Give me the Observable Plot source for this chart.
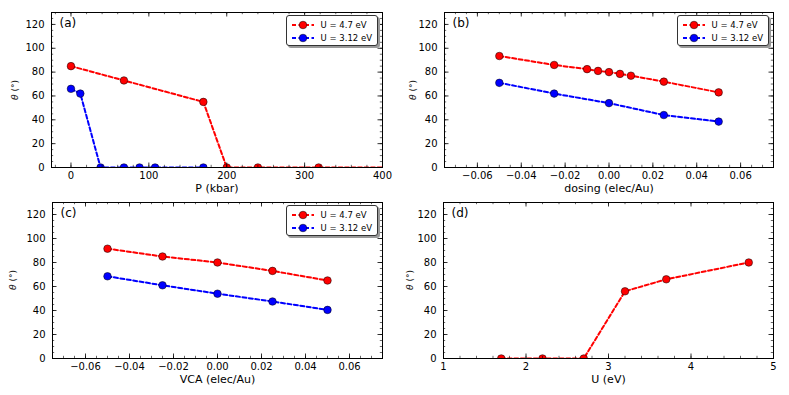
<!DOCTYPE html>
<html>
<head>
<meta charset="utf-8">
<script src="https://cdn.jsdelivr.net/npm/d3@7"></script>
<script src="https://cdn.jsdelivr.net/npm/@observablehq/plot@0.6"></script>
<style>
  html, body { margin: 0; padding: 0; background: #fff; }
  #wrap { position: relative; width: 789px; height: 395px; font-family: "DejaVu Sans", sans-serif; overflow: hidden; }
  #wrap svg.plot { position: absolute; }
  .ylab { position: absolute; transform: translate(-50%, -50%) rotate(-90deg); white-space: nowrap; font-size: 9px; color: #222; }
  .legend { position: absolute; border: 1px solid #333; border-radius: 3px; background: #fff; box-shadow: 2px 2px 0 #999; font-size: 8.5px; padding: 2px 5px 1px 4px; }
  .legend .row { display: flex; align-items: center; height: 13px; }
  .legend svg { margin-right: 6px; }
</style>
</head>
<body>
<div id="wrap"></div>
<script>
// ---------- Data ----------
// Panel (a): pressure
const aRedP   = [0, 68, 170, 200, 240, 318, 420];
const aRedT   = [85, 73, 55, 0, 0, 0, 0];
const aBlueP  = [0, 12, 38, 68, 88, 108, 170];
const aBlueT  = [66, 62, 0, 0, 0, 0, 0];
// Panel (b): dosing
const bRedX   = [-0.05, -0.025, -0.01, -0.005, 0, 0.005, 0.01, 0.025, 0.05];
const bRedT   = [93.5, 86, 82.5, 81, 80, 78.5, 77, 72, 63];
const bBlueX  = [-0.05, -0.025, 0, 0.025, 0.05];
const bBlueT  = [71, 62, 54, 44, 38.5];
// Panel (c): VCA
const cRedX   = [-0.05, -0.025, 0, 0.025, 0.05];
const cRedT   = [91.5, 85, 80, 73, 65];
const cBlueX  = [-0.05, -0.025, 0, 0.025, 0.05];
const cBlueT  = [68.5, 61, 54, 47.5, 40.5];
// Panel (d): U
const dU      = [1.7, 2.2, 2.7, 3.2, 3.7, 4.7];
const dT      = [0, 0, 0, 56, 66, 80];

// Tick values
const yMajor = [0, 20, 40, 60, 80, 100, 120];
const yMinor = d3.range(0, 131, 5);
const aXMajor = [0, 100, 200, 300, 400];
const aXMinor = d3.range(-20, 401, 20);
const bXMajor = [-0.06, -0.04, -0.02, 0, 0.02, 0.04, 0.06];
const bXMinor = d3.range(-14, 15).map(i => i * 0.005);
const dXMajor = [1, 2, 3, 4, 5];
const dXMinor = d3.range(5, 26).map(i => i * 0.2);

const legendLabels = ["U = 4.7 eV", "U = 3.12 eV"];
const RED = "#ff0000", BLUE = "#0000ff";

const wrap = document.getElementById("wrap");
const fmt2 = d3.format(".2f");

function zip(xs, ys) { return xs.map((x, i) => ({x, y: ys[i]})); }

function panel(o) {
  const fw = o.width - o.mL - o.mR;
  const fh = o.height - o.mT - o.mB;
  const marks = [];
  for (const s of o.series) {
    marks.push(Plot.line(s.data, {x: "x", y: "y", stroke: s.color, strokeWidth: 2, strokeDasharray: "4,2.5", clip: true}));
  }
  for (const s of o.series) {
    marks.push(Plot.dot(s.data, {x: "x", y: "y", fill: s.color, stroke: "#000", strokeWidth: 0.5, r: 3.8, clip: true}));
  }
  const inX = v => v >= o.xDomain[0] - 1e-9 && v <= o.xDomain[1] + 1e-9;
  const xMaj = o.xMajor.filter(inX), xMin = o.xMinor.filter(inX);
  // inward ticks on all four sides
  marks.push(Plot.tickX(xMaj, {insetTop: fh - 4.5, stroke: "#000", strokeWidth: 0.8}));
  marks.push(Plot.tickX(xMaj, {insetBottom: fh - 4.5, stroke: "#000", strokeWidth: 0.8}));
  marks.push(Plot.tickX(xMin, {insetTop: fh - 2.2, stroke: "#000", strokeWidth: 0.6}));
  marks.push(Plot.tickX(xMin, {insetBottom: fh - 2.2, stroke: "#000", strokeWidth: 0.6}));
  marks.push(Plot.tickY(yMajor, {insetRight: fw - 4.5, stroke: "#000", strokeWidth: 0.8}));
  marks.push(Plot.tickY(yMajor, {insetLeft: fw - 4.5, stroke: "#000", strokeWidth: 0.8}));
  marks.push(Plot.tickY(yMinor, {insetRight: fw - 2.2, stroke: "#000", strokeWidth: 0.6}));
  marks.push(Plot.tickY(yMinor, {insetLeft: fw - 2.2, stroke: "#000", strokeWidth: 0.6}));
  marks.push(Plot.frame({stroke: "#000", strokeWidth: 1}));
  marks.push(Plot.axisX(xMaj, {tickSize: 0, tickPadding: 4, tickFormat: o.xFmt, label: null, fontSize: 10, fill: "#000"}));
  marks.push(Plot.axisY(yMajor, {tickSize: 0, tickPadding: 7, label: null, fontSize: 10, fill: "#000"}));
  marks.push(Plot.text([o.xLabel], {text: d => d, frameAnchor: "bottom", lineAnchor: "middle", dy: 21, fontSize: 11, fill: "#000"}));
  marks.push(Plot.text([o.letter], {text: d => d, frameAnchor: "top-left", lineAnchor: "middle", dx: 8, dy: 11, fontSize: 12, fill: "#000", textAnchor: "start"}));

  const svg = Plot.plot({
    width: o.width, height: o.height,
    marginLeft: o.mL, marginRight: o.mR, marginTop: o.mT, marginBottom: o.mB,
    x: {domain: o.xDomain},
    y: {domain: [0, 130]},
    style: {fontFamily: '"DejaVu Sans", sans-serif', background: "transparent", overflow: "visible"},
    marks
  });
  svg.classList.add("plot");
  svg.style.left = o.left + "px";
  svg.style.top = o.top + "px";
  wrap.appendChild(svg);

  // y label (theta italic)
  const yl = document.createElement("div");
  yl.className = "ylab";
  yl.innerHTML = "<i>&theta;</i> (&deg;)";
  yl.style.left = o.yLabX + "px";
  yl.style.top = (o.top + o.mT + fh / 2) + "px";
  wrap.appendChild(yl);

  // legend
  if (o.legend) {
    const lg = document.createElement("div");
    lg.className = "legend";
    lg.style.right = (789 - (o.left + o.width - o.mR) + 4) + "px";
    lg.style.top = (o.top + o.mT + 3) + "px";
    o.series.forEach((s, i) => {
      const row = document.createElement("div");
      row.className = "row";
      row.innerHTML = `<svg width="24" height="10"><line x1="1" x2="23" y1="5" y2="5" stroke="${s.color}" stroke-width="2" stroke-dasharray="4,2.5"/><circle cx="12" cy="5" r="3.8" fill="${s.color}" stroke="#000" stroke-width="0.5"/></svg><span>${legendLabels[i]}</span>`;
      lg.appendChild(row);
    });
    wrap.appendChild(lg);
  }
}

const fmtSigned = d => fmt2(d);

panel({left: 0, top: 0, width: 395, height: 197, mL: 51, mR: 13, mT: 12, mB: 30,
  xDomain: [-25, 400], xMajor: aXMajor, xMinor: aXMinor, xFmt: d => String(d),
  xLabel: "P (kbar)", letter: "(a)", yLabX: 15, legend: true,
  series: [{data: zip(aRedP, aRedT), color: RED}, {data: zip(aBlueP, aBlueT), color: BLUE}]});

panel({left: 395, top: 0, width: 394, height: 197, mL: 49, mR: 16, mT: 12, mB: 30,
  xDomain: [-0.075, 0.075], xMajor: bXMajor, xMinor: bXMinor, xFmt: fmtSigned,
  xLabel: "dosing (elec/Au)", letter: "(b)", yLabX: 413, legend: true,
  series: [{data: zip(bRedX, bRedT), color: RED}, {data: zip(bBlueX, bBlueT), color: BLUE}]});

panel({left: 0, top: 197, width: 395, height: 198, mL: 52, mR: 13, mT: 5, mB: 37,
  xDomain: [-0.075, 0.075], xMajor: bXMajor, xMinor: bXMinor, xFmt: fmtSigned,
  xLabel: "VCA (elec/Au)", letter: "(c)", yLabX: 13, legend: true,
  series: [{data: zip(cRedX, cRedT), color: RED}, {data: zip(cBlueX, cBlueT), color: BLUE}]});

panel({left: 395, top: 197, width: 394, height: 198, mL: 48, mR: 16, mT: 5, mB: 37,
  xDomain: [1, 5], xMajor: dXMajor, xMinor: dXMinor, xFmt: d => String(d),
  xLabel: "U (eV)", letter: "(d)", yLabX: 410, legend: false,
  series: [{data: zip(dU, dT), color: RED}]});
</script>
</body>
</html>
